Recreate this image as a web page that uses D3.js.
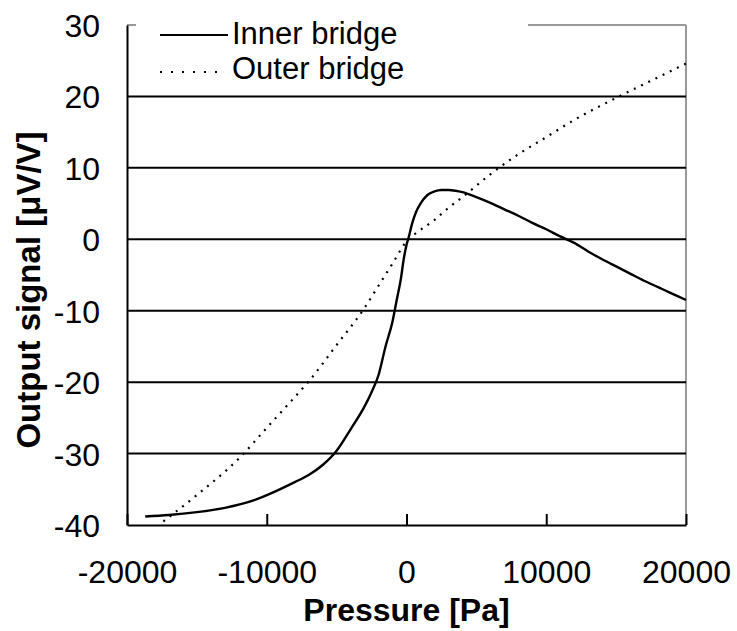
<!DOCTYPE html>
<html>
<head>
<meta charset="utf-8">
<script src="https://cdn.jsdelivr.net/npm/d3@7"></script>
<style>
  html, body { margin: 0; padding: 0; background: #fff; }
  svg text { font-family: Arial, "Liberation Sans", sans-serif; fill: #000; }
</style>
</head>
<body>
<svg id="chart" width="737" height="631"></svg>
<script>
// Inner bridge (solid)
const innerPressure = [-18700, -17000, -15000, -13000, -11000, -9500, -8000, -7000, -6000, -5000,
    -4000, -3000, -2500, -2000, -1500, -1000, -700, -400, -200, 0,
    200, 400, 700, 1000, 1500, 2000, 2500, 3000, 3500, 4000,
    5000, 6000, 7000, 8000, 9000, 10000, 11000, 12000, 13000, 14000,
    15000, 16000, 17000, 18000, 19000, 20000];
const innerSignal = [-38.8, -38.6, -38.2, -37.6, -36.6, -35.4, -34.0, -33.0, -31.6, -29.6,
    -26.6, -23.4, -21.4, -19.0, -15.0, -11.5, -8.5, -5.5, -2.8, -0.8,
    0.6, 2.2, 3.9, 5.0, 6.2, 6.7, 6.9, 6.9, 6.8, 6.6,
    5.9, 5.1, 4.2, 3.3, 2.3, 1.4, 0.4, -0.5, -1.7, -2.8,
    -3.8, -4.8, -5.8, -6.7, -7.6, -8.5];

// Outer bridge (dotted)
const outerPressure = [-17400, -15000, -12000, -10000, -8000, -7000, -5000, -3000, -2000, -1000,
    0, 1000, 2000, 3000, 4000, 6000, 8000, 10000, 12000, 15000, 17500, 20000];
const outerSignal = [-39.5, -35.8, -30.7, -26.4, -22.1, -19.9, -14.8, -9.6, -6.5, -3.4,
    -0.3, 1.3, 2.7, 4.4, 5.9, 9.1, 11.9, 14.3, 16.7, 19.8, 22.2, 24.6];

const xTicks = [-20000, -10000, 0, 10000, 20000];
const yTicks = [-40, -30, -20, -10, 0, 10, 20, 30];
const seriesNames = ['Inner bridge', 'Outer bridge'];

const svg = d3.select('#chart');
const margin = { left: 127, right: 51, top: 25, bottom: 106 };
const width = 737 - margin.left - margin.right;
const height = 631 - margin.top - margin.bottom;

const x = d3.scaleLinear().domain([-20000, 20000]).range([0, width]);
const y = d3.scaleLinear().domain([-40, 30]).range([height, 0]);

const fmt = d => String(d); // plain hyphen minus, like the original

const g = svg.append('g').attr('transform', `translate(${margin.left},${margin.top})`);

// plot frame (top/right grey)
g.append('line').attr('x1', 0).attr('x2', width).attr('y1', 0).attr('y2', 0)
    .attr('stroke', '#999').attr('stroke-width', 2);
g.append('line').attr('x1', width).attr('x2', width).attr('y1', 0).attr('y2', height)
    .attr('stroke', '#999').attr('stroke-width', 2);

// horizontal gridlines
g.append('g').selectAll('line')
    .data(yTicks.filter(d => d > -40 && d < 30))
    .join('line')
    .attr('x1', 0).attr('x2', width)
    .attr('y1', d => y(d)).attr('y2', d => y(d))
    .attr('stroke', '#000').attr('stroke-width', 2);

// y axis
const yAxis = g.append('g')
    .call(d3.axisLeft(y).tickValues(yTicks).tickSize(0).tickPadding(27).tickFormat(fmt));
yAxis.select('.domain').attr('stroke', '#000').attr('stroke-width', 2);
yAxis.selectAll('text').attr('font-size', 32).attr('dy', '0.36em');

// x axis with inward ticks
const xAxis = g.append('g').attr('transform', `translate(0,${height})`)
    .call(d3.axisBottom(x).tickValues(xTicks).tickSizeInner(-11).tickSizeOuter(0).tickPadding(35).tickFormat(fmt));
xAxis.select('.domain').attr('stroke', '#000').attr('stroke-width', 2);
xAxis.selectAll('.tick line').attr('stroke', '#000').attr('stroke-width', 2);
xAxis.selectAll('text').attr('font-size', 32).attr('dy', '0.71em');

// lines
const line = d3.line().x(d => x(d[0])).y(d => y(d[1])).curve(d3.curveMonotoneX);
const innerData = innerPressure.map((p, i) => [p, innerSignal[i]]);
const outerData = outerPressure.map((p, i) => [p, outerSignal[i]]);

g.append('path').datum(outerData)
    .attr('d', line).attr('fill', 'none')
    .attr('stroke', '#000').attr('stroke-width', 2.2).attr('stroke-dasharray', '2,6');
g.append('path').datum(innerData)
    .attr('d', line).attr('fill', 'none')
    .attr('stroke', '#000').attr('stroke-width', 2.4);

// legend (white box hides the top frame line behind it)
const legend = svg.append('g').attr('transform', 'translate(136,12)');
legend.append('rect').attr('width', 392).attr('height', 80).attr('fill', '#fff');
const rows = [
    { base: 32, sample: 23, dash: null, x2: 92 },
    { base: 67, sample: 60, dash: '2,9', x2: 87 }
];
seriesNames.forEach((name, i) => {
    const r = rows[i];
    legend.append('line').attr('x1', 24).attr('x2', r.x2)
        .attr('y1', r.sample).attr('y2', r.sample)
        .attr('stroke', '#000').attr('stroke-width', 2.2)
        .attr('stroke-dasharray', r.dash);
    legend.append('text').attr('x', 96).attr('y', r.base).attr('font-size', 31).text(name);
});

// axis titles
svg.append('text')
    .attr('x', margin.left + x(0)).attr('y', 621)
    .attr('text-anchor', 'middle').attr('font-size', 32).attr('font-weight', 'bold')
    .text('Pressure [Pa]');
svg.append('text')
    .attr('transform', `translate(40,${margin.top + height / 2 + 15}) rotate(-90)`)
    .attr('text-anchor', 'middle').attr('font-size', 33).attr('font-weight', 'bold')
    .text('Output signal [μV/V]');
</script>
</body>
</html>
